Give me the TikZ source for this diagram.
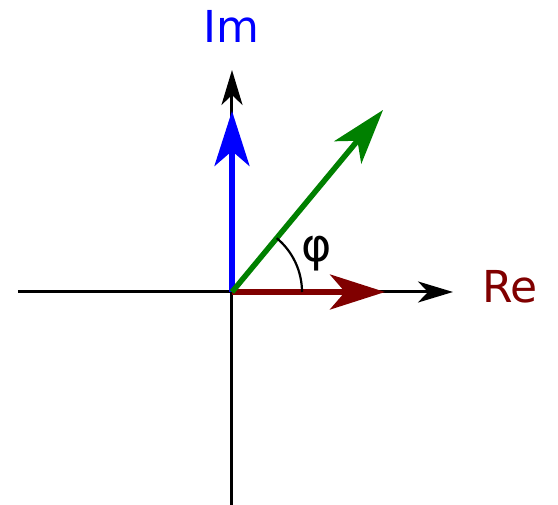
\documentclass[tikz,border=0pt]{standalone}
\usepackage{fontspec}
\setmainfont{DejaVu Sans}
\usetikzlibrary{arrows.meta}
\definecolor{rered}{RGB}{128,0,0}
\definecolor{zgreen}{RGB}{0,128,0}

\begin{document}
\begin{tikzpicture}[x=1pt,y=1pt,
  axis/.style={line width=3pt, -{Stealth[length=35pt,width=21pt,inset=10pt]}},
  phasor/.style={line width=5.5pt, -{Stealth[length=55pt,width=35pt,inset=15pt]}},
  lbl/.style={font=\fontsize{44}{44}\selectfont, anchor=base, inner sep=0pt}]
\useasboundingbox (-232,-213) rectangle (326,292);
\coordinate (origin) at (0,0);
\coordinate (xleft) at (-214,0);
\coordinate (xright) at (221,0);
\coordinate (ybottom) at (0,-213);
\coordinate (ytop) at (0,222);
\coordinate (imtip) at (0,181);
\coordinate (retip) at (153,0);
\coordinate (ztip) at (151,182);

\node[lbl, text=blue] (imlabel) at (-1,249) {Im};
\node[lbl, text=rered] (relabel) at (278,-11) {Re};
\node[font=\fontsize{46}{46}\selectfont, inner sep=0pt] (philabel) at (85,38) {φ};

\draw[axis] (xleft) -- (xright);
\draw[axis] (ybottom) -- (ytop);
\draw[phasor, blue] (origin) -- (imtip);
\draw[phasor, rered] (origin) -- (retip);
\draw[phasor, zgreen] (origin) -- (ztip);
\draw[line width=2.2pt] (70,0) arc (0:50.3:70);
\end{tikzpicture}
\end{document}
